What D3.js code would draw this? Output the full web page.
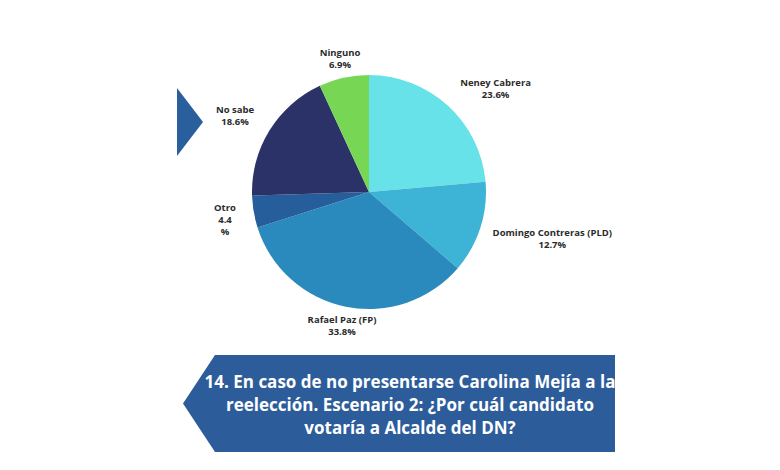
<!DOCTYPE html>
<html>
<head>
<meta charset="utf-8">
<script src="https://cdn.jsdelivr.net/npm/d3@7"></script>
<style>
  body { margin: 0; background: #fff; }
  svg { display: block; font-family: "Open Sans", sans-serif; }
</style>
</head>
<body>
<div id="chart"></div>
<script>
// survey answers, clockwise from 12 o'clock
const names = ["Neney Cabrera", "Domingo Contreras (PLD)", "Rafael Paz (FP)", "Otro", "No sabe", "Ninguno"]
const values = [23.6, 12.7, 33.8, 4.4, 18.6, 6.9]
const labelLines = [
    ["Neney Cabrera", "23.6%"],
    ["Domingo Contreras (PLD)", "12.7%"],
    ["Rafael Paz (FP)", "33.8%"],
    ["Otro", "4.4", "%"],
    ["No sabe", "18.6%"],
    ["Ninguno", "6.9%"]
]
const colors = ["#67e2e8", "#3db4d5", "#2a8abe", "#255e9b", "#2b3268", "#78d655"]
const titleLines = [
    "14. En caso de no presentarse Carolina Mejía a la",
    "reelección. Escenario 2: ¿Por cuál candidato",
    "votaría a Alcalde del DN?"
]

let w = 780, h = 470
let cx = 369, cy = 192, r = 117
let gapX = 18, gapY = 10
let plotRight = 612 - cx   // labels stay inside the chart area
let fontSize = 9.5, lineH = 12, capH = fontSize * 0.72

let svg = d3.select("#chart").append("svg")
    .attr("width", w)
    .attr("height", h)

let data = names.map((n, i) => ({ name: n, value: values[i], lines: labelLines[i] }))

let pie = d3.pie().sort(null).value(d => d.value)
let arc = d3.arc().innerRadius(0).outerRadius(r)
let arcs = pie(data)

let g = svg.append("g").attr("transform", "translate(" + cx + "," + cy + ")")

g.selectAll("path.slice")
    .data(arcs)
    .enter().append("path")
    .attr("class", "slice")
    .attr("fill", (d, i) => colors[i])
    .attr("d", arc)

// "best fit" style labels: the visible text box touches a point just outside
// the rim, sitting beside / above / below it depending on the middle angle
let clamp01 = v => Math.max(0, Math.min(1, v))
let alignX = v => Math.sign(v) * clamp01((Math.abs(v) - 0.25) / 0.4)
let alignY = v => Math.sign(v) * clamp01((Math.abs(v) - 0.05) / 0.3)

g.selectAll("g.label")
    .data(arcs)
    .enter().append("g")
    .attr("class", "label")
    .each(function (d) {
        let lg = d3.select(this)
        let lines = d.data.lines
        let texts = lines.map((t, k) => lg.append("text")
            .attr("text-anchor", "middle")
            .attr("y", k * lineH)
            .style("font-size", fontSize + "px")
            .style("font-weight", "bold")
            .style("fill", "#2b2b2b")
            .text(t))
        let bw = d3.max(texts, t => t.node().getComputedTextLength())
        let bh = capH + (lines.length - 1) * lineH
        let a = (d.startAngle + d.endAngle) / 2
        let px = (r + gapX) * Math.sin(a)
        let py = -(r + gapY) * Math.cos(a)
        let fx = 0.5 - 0.5 * alignX(Math.sin(a))
        let fy = 0.5 + 0.5 * alignY(Math.cos(a))
        let left = Math.min(px - fx * bw, plotRight - bw)
        let top = py - fy * bh
        lg.attr("transform", "translate(" + (left + bw / 2) + "," + (top + capH) + ")")
    })

// small arrow on the left
svg.append("path")
    .attr("d", "M177,88 L203,122 L177,156 Z")
    .attr("fill", "#2a5f9e")

// title banner
let bx0 = 183, bx1 = 215, bx2 = 615, by0 = 355, by1 = 452
svg.append("path")
    .attr("d", "M" + bx1 + "," + by0 + " L" + bx2 + "," + by0 + " L" + bx2 + "," + by1 +
        " L" + bx1 + "," + by1 + " L" + bx0 + "," + ((by0 + by1) / 2) + " Z")
    .attr("fill", "#2c5d9a")

svg.selectAll("text.title")
    .data(titleLines)
    .enter().append("text")
    .attr("class", "title")
    .attr("x", 410)
    .attr("y", (d, i) => 388 + i * 23)
    .attr("text-anchor", "middle")
    .style("font-size", "17px")
    .style("font-weight", "bold")
    .style("fill", "#fff")
    .text(d => d)
</script>
</body>
</html>
